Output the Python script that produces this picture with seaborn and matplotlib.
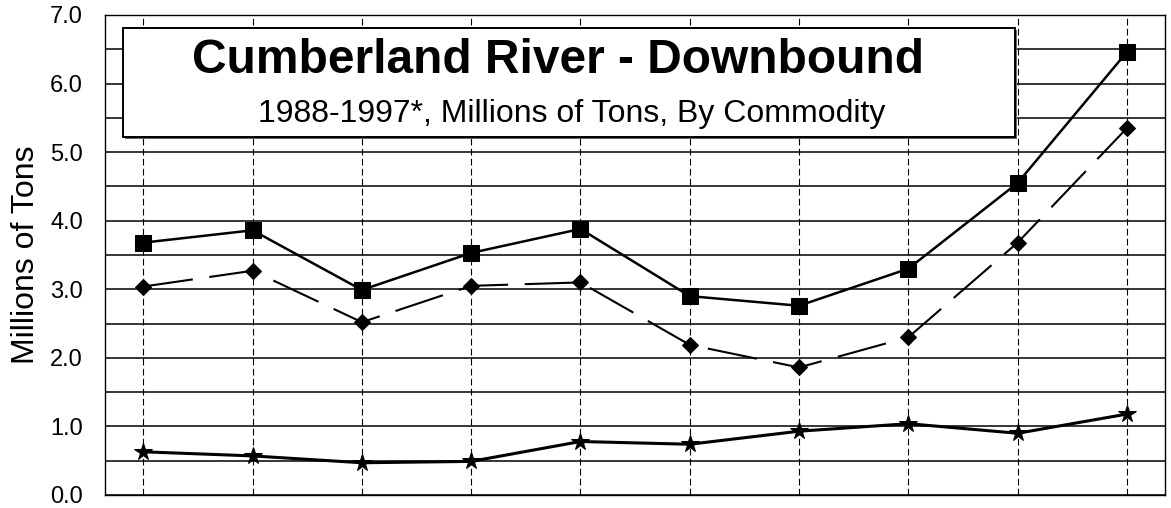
import pandas as pd
import matplotlib.pyplot as plt
import seaborn as sns
from matplotlib.patches import Rectangle

# values (millions of tons)
years = list(range(1988, 1998))
square_vals = [3.68, 3.86, 2.99, 3.53, 3.88, 2.90, 2.76, 3.30, 4.55, 6.46]
diamond_vals = [3.04, 3.27, 2.52, 3.05, 3.10, 2.19, 1.86, 2.30, 3.68, 5.35]
star_vals = [0.63, 0.57, 0.47, 0.49, 0.78, 0.74, 0.93, 1.04, 0.90, 1.18]

title = "Cumberland River - Downbound"
subtitle = "1988-1997*, Millions of Tons, By Commodity"
ylabel = "Millions of Tons"

df = pd.DataFrame({"year": years, "square": square_vals,
                   "diamond": diamond_vals, "star": star_vals})

sns.set_style("white")
plt.rcParams["font.family"] = ["Liberation Sans", "DejaVu Sans"]
plt.rcParams["text.color"] = "black"
plt.rcParams["axes.labelcolor"] = "black"
plt.rcParams["ytick.color"] = "black"
plt.rcParams["xtick.color"] = "black"

fig = plt.figure(figsize=(11.71, 5.08), dpi=100)
ax = fig.add_axes([0.0897, 0.0256, 0.9053, 0.9449])

sns.lineplot(data=df, x="year", y="square", ax=ax, color="black", lw=1.8,
             marker="s", markersize=11, markeredgecolor="black", zorder=4)
sns.lineplot(data=df, x="year", y="diamond", ax=ax, color="black", lw=1.5,
             linestyle=(0, (24, 8)), marker="D", markersize=8,
             markeredgecolor="black", zorder=4)
sns.lineplot(data=df, x="year", y="star", ax=ax, color="black", lw=2.2,
             marker="*", markersize=13, markeredgecolor="black", zorder=4)

# axes
ax.set_xlim(years[0] - 0.35, years[-1] + 0.35)
ax.set_ylim(0, 7)
ax.set_xticks(years)
ax.set_xticklabels([])
ax.set_yticks([i for i in range(8)])
ax.set_yticklabels([f"{i:.1f}" for i in range(8)])
ax.set_yticks([i + 0.5 for i in range(7)], minor=True)
ax.tick_params(axis="both", which="both", length=0)
ax.tick_params(axis="y", labelsize=17, pad=16)
ax.set_xlabel("")
ax.set_ylabel(ylabel, fontsize=23)
ax.yaxis.set_label_coords(-0.06, 0.5)

ax.grid(axis="y", which="both", color="black", lw=1.1, linestyle="-")
ax.grid(axis="x", which="major", color="black", lw=0.8, linestyle=(0, (6, 3)))
for s in ax.spines.values():
    s.set_color("black")
    s.set_linewidth(1.0)

# title box
ax.add_patch(Rectangle((0.019, 0.742), 0.841, 0.227, transform=ax.transAxes,
                       facecolor="#666666", edgecolor="none", zorder=5))
ax.add_patch(Rectangle((0.017, 0.746), 0.841, 0.227, transform=ax.transAxes,
                       facecolor="white", edgecolor="black", lw=1.4, zorder=6))
ax.text(0.427, 0.905, title, transform=ax.transAxes, ha="center", va="center",
        fontsize=34.5, fontweight="bold", zorder=7)
ax.text(0.44, 0.793, subtitle, transform=ax.transAxes, ha="center", va="center",
        fontsize=23, zorder=7)

plt.savefig("out.png", dpi=100)
plt.close()
